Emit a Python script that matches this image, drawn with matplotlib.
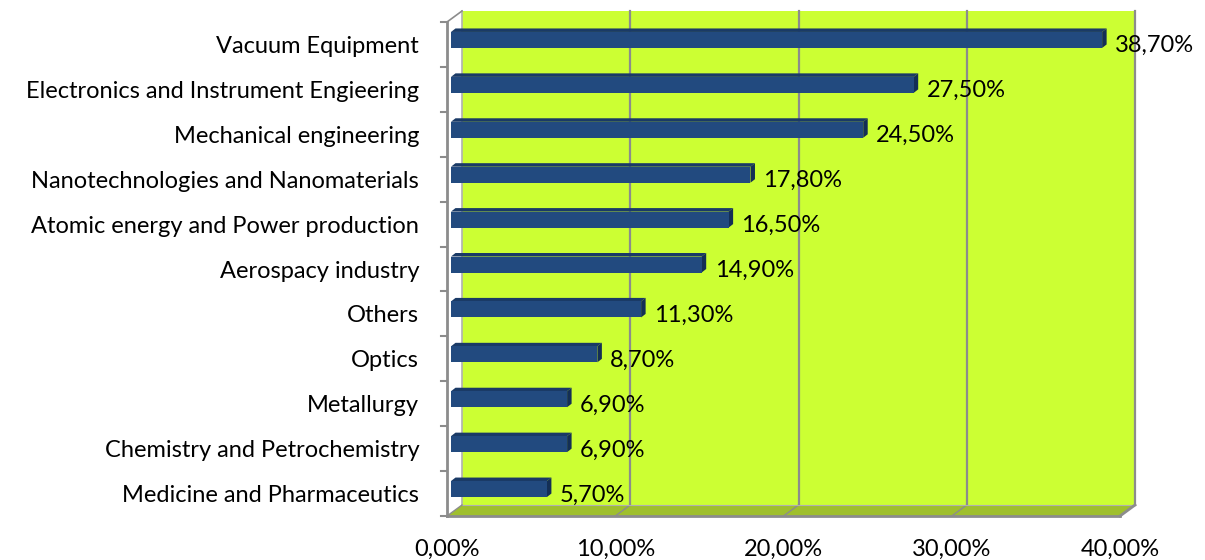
import numpy as np
import matplotlib.pyplot as plt
from matplotlib.patches import Polygon

plt.rcParams['font.family'] = ['Lato', 'DejaVu Sans']

categories = ['Vacuum Equipment', 'Electronics and Instrument Engieering',
              'Mechanical engineering', 'Nanotechnologies and Nanomaterials',
              'Atomic energy and Power production', 'Aerospacy industry',
              'Others', 'Optics', 'Metallurgy', 'Chemistry and Petrochemistry',
              'Medicine and Pharmaceutics']
values = [38.7, 27.5, 24.5, 17.8, 16.5, 14.9, 11.3, 8.7, 6.9, 6.9, 5.7]
xticks = [0, 10, 20, 30, 40]

W, H = 1205, 560
fig = plt.figure(figsize=(W / 100, H / 100), dpi=100)
# front plane of the pseudo-3d plot: x 0..40 -> px 447..1120, y -0.5..10.5 -> px 516..22
ax = fig.add_axes([447 / W, 44 / H, 673 / W, 494 / H])
ax.set_xlim(0, 40)
ax.set_ylim(-0.5, 10.5)
ax.axis('off')

px = 40 / 673.0   # data units per pixel, x
py = 11 / 494.0   # data units per pixel, y
dx, dy = 15 * px, 11 * py   # depth offset of the back wall
grey = '#8c8c8c'
y0, y1 = -0.5, 10.5
fs = 17

def poly(pts, **kw):
    ax.add_patch(Polygon(pts, closed=True, clip_on=False, **kw))

# back wall
poly([(dx, y0 + dy), (40 + dx, y0 + dy), (40 + dx, y1 + dy), (dx, y1 + dy)],
     facecolor='#ccff33', edgecolor='none', zorder=1)
# floor
poly([(0, y0), (40, y0), (40 + dx, y0 + dy), (dx, y0 + dy)],
     facecolor='#9fbf2d', edgecolor='none', zorder=1)
# left side wall (white)
poly([(0, y0), (dx, y0 + dy), (dx, y1 + dy), (0, y1)],
     facecolor='white', edgecolor='none', zorder=1)

# gridlines on back wall + floor
for t in xticks[1:]:
    ax.plot([t + dx, t + dx], [y0 + dy, y1 + dy], color=grey, lw=1.6, zorder=2, clip_on=False)
    if t < 40:
        ax.plot([t, t + dx], [y0, y0 + dy], color=grey, lw=1.0, zorder=2, clip_on=False)
ax.plot([dx, dx], [y0 + dy, y1 + dy], color='#b0b0b0', lw=1.2, zorder=2, clip_on=False)
ax.plot([dx, 40 + dx], [y0 + dy, y0 + dy], color='#b0b0b0', lw=0.8, zorder=2, clip_on=False)

# front axes lines
ax.plot([0, 0], [y0, y1], color=grey, lw=2, zorder=3, clip_on=False)
ax.plot([0, dx], [y1, y1 + dy], color=grey, lw=1.2, zorder=3, clip_on=False)
ax.plot([0, dx], [y0, y0 + dy], color=grey, lw=1.0, zorder=3, clip_on=False)
ax.plot([0, 40], [y0, y0], color=grey, lw=2, zorder=3, clip_on=False)
ax.plot([40, 40 + dx], [y0, y0 + dy], color=grey, lw=2, zorder=3, clip_on=False)
for k in range(12):
    yy = y0 + k
    ax.plot([-6 * px, 0], [yy, yy], color=grey, lw=1.5, zorder=3, clip_on=False)

# 3d bars
bx, by = 4 * px, 4.5 * py      # front face shift
ddx, ddy = 4.5 * px, 3.5 * py  # bar depth
bh = 16 * py
ypos = np.arange(len(categories))[::-1]
for yc, v in zip(ypos, values):
    x0, x1 = bx, v + bx
    yb, yt = yc + by - bh / 2, yc + by + bh / 2
    poly([(x0, yt), (x1, yt), (x1 + ddx, yt + ddy), (x0 + ddx, yt + ddy)],
         facecolor='#1a3a66', edgecolor='none', zorder=4)
    poly([(x1, yb), (x1 + ddx, yb + ddy), (x1 + ddx, yt + ddy), (x1, yt)],
         facecolor='#142f55', edgecolor='none', zorder=4)
    poly([(x0, yb), (x1, yb), (x1, yt), (x0, yt)],
         facecolor='#224a7f', edgecolor='none', zorder=5)
    ax.annotate(f'{v:.2f}%'.replace('.', ','), xy=(x1 + ddx, yc), xytext=(6, -1),
                textcoords='offset points', ha='left', va='center',
                fontsize=fs, color='black', zorder=6, annotation_clip=False)

# category labels
for yc, c in zip(ypos, categories):
    ax.annotate(c, xy=(0, yc), xytext=(-20, -1.5), textcoords='offset points',
                ha='right', va='center', fontsize=fs, color='black', annotation_clip=False)

# x tick labels
for t in xticks:
    ax.annotate(f'{t:.2f}%'.replace('.', ','), xy=(t, y0), xytext=(0, -24),
                textcoords='offset points', ha='center', va='center',
                fontsize=fs, color='black', annotation_clip=False)

fig.savefig('out.png', dpi=100, facecolor='white')
